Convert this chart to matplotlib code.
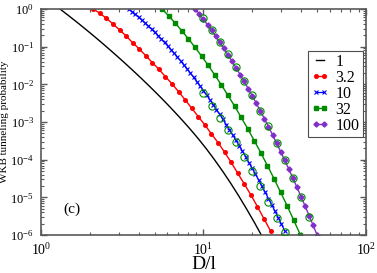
import matplotlib
matplotlib.use("Agg")
import matplotlib.pyplot as plt

plt.rcParams["font.family"] = "serif"
plt.rcParams["font.serif"] = ["Liberation Serif", "DejaVu Serif"]
plt.rcParams["mathtext.fontset"] = "stix"

# values, stored as log10(D/l) and log10(probability)
black_logd = [0.117, 0.167, 0.217, 0.267, 0.317, 0.367, 0.417, 0.467, 0.517, 0.567, 0.617, 0.667, 0.717,
              0.767, 0.817, 0.867, 0.917, 0.967, 1.017, 1.067, 1.117, 1.167, 1.217, 1.267, 1.317, 1.357]
black_logp = [0, -0.167, -0.336, -0.510, -0.688, -0.870, -1.056, -1.246, -1.440, -1.638, -1.841, -2.049,
              -2.262, -2.481, -2.708, -2.942, -3.184, -3.439, -3.709, -3.997, -4.302, -4.624, -4.964,
              -5.322, -5.697, -6.009]

red_logd = [0.322, 0.362, 0.403, 0.443, 0.484, 0.524, 0.564, 0.605, 0.645, 0.686, 0.726, 0.766, 0.807, 0.847,
            0.888, 0.928, 0.968, 1.009, 1.049, 1.090, 1.130, 1.170, 1.211, 1.251, 1.292, 1.332, 1.372, 1.413]
red_logp = [0, -0.114, -0.247, -0.398, -0.557, -0.717, -0.895, -1.062, -1.240, -1.426, -1.601, -1.797, -1.991,
            -2.196, -2.416, -2.636, -2.859, -3.079, -3.318, -3.549, -3.804, -4.070, -4.362, -4.646, -4.938,
            -5.249, -5.567, -5.895]

blue_logd = [0.54, 0.56, 0.58, 0.60, 0.62, 0.64, 0.66, 0.68, 0.70, 0.72, 0.74, 0.76, 0.78, 0.80, 0.82, 0.84,
             0.86, 0.88, 0.90, 0.92, 0.94, 0.96, 0.98, 1.00, 1.02, 1.04, 1.06, 1.08, 1.10, 1.12, 1.14, 1.16,
             1.18, 1.20, 1.22, 1.24, 1.26, 1.28, 1.30, 1.32, 1.34, 1.36, 1.38, 1.40, 1.42, 1.44, 1.46, 1.48, 1.50]
blue_logp = [0, -0.069, -0.141, -0.215, -0.291, -0.369, -0.450, -0.533, -0.618, -0.706, -0.795, -0.887, -0.982,
             -1.078, -1.177, -1.278, -1.382, -1.487, -1.595, -1.706, -1.818, -1.933, -2.050, -2.169, -2.291,
             -2.415, -2.541, -2.669, -2.800, -2.933, -3.068, -3.206, -3.345, -3.488, -3.632, -3.778, -3.927,
             -4.079, -4.232, -4.388, -4.546, -4.706, -4.868, -5.033, -5.200, -5.370, -5.541, -5.715, -5.891]

green_logd = [0.745, 0.786, 0.826, 0.867, 0.907, 0.948, 0.988, 1.029, 1.069, 1.110, 1.150, 1.191, 1.231,
              1.272, 1.312, 1.353, 1.393, 1.434, 1.474, 1.515, 1.555, 1.596]
green_logp = [0, -0.183, -0.376, -0.579, -0.793, -1.017, -1.251, -1.495, -1.750, -2.015, -2.290, -2.575,
              -2.871, -3.177, -3.493, -3.819, -4.156, -4.503, -4.860, -5.228, -5.605, -5.993]

purple_logd = [0.950, 0.975, 1.000, 1.025, 1.050, 1.075, 1.100, 1.125, 1.150, 1.175, 1.200, 1.225, 1.250,
               1.275, 1.300, 1.325, 1.350, 1.375, 1.400, 1.425, 1.450, 1.475, 1.500, 1.525, 1.550, 1.575,
               1.600, 1.625, 1.650, 1.675, 1.700]
purple_logp = [0, -0.136, -0.276, -0.421, -0.570, -0.724, -0.882, -1.045, -1.212, -1.383, -1.559, -1.739,
               -1.924, -2.113, -2.307, -2.505, -2.708, -2.915, -3.126, -3.342, -3.563, -3.788, -4.017, -4.251,
               -4.489, -4.731, -4.978, -5.230, -5.486, -5.746, -6.011]

# open green circles (comparison points) lying on the 10 and 100 curves
circ_logd = [1.00, 1.05, 1.10, 1.15, 1.20, 1.25, 1.30, 1.35, 1.40, 1.45, 1.50, 1.55, 1.60, 1.65]
circ_blue_logp = [-2.217, -2.567, -2.894, -3.212, -3.544, -3.921, -4.295, -4.694, -5.111, -5.540, -5.92]
circ_purple_logp = [-0.247, -0.557, -0.868, -1.203, -1.532, -1.911, -2.283, -2.708, -3.098, -3.549, -4.009,
                    -4.494, -4.983, -5.514]

labels = ["1", "3.2", "10", "32", "100"]


def lin(vals):
    return [10 ** v for v in vals]


fig = plt.figure(figsize=(3.77, 2.73), dpi=100)
ax = fig.add_axes([41 / 377, 38 / 273, 325 / 377, 226 / 273])

ax.plot(lin(black_logd), lin(black_logp), color="black", lw=1.0, label=labels[0])
ax.plot(lin(red_logd), lin(red_logp), color="#ff0000", lw=1.0, marker="o", ms=2.6, label=labels[1])
ax.plot(lin(blue_logd), lin(blue_logp), color="#0000ff", lw=0.9, marker="x", ms=3.0, mew=0.8,
        label=labels[2])
ax.plot(lin(green_logd), lin(green_logp), color="#008b00", lw=1.0, marker="s", ms=2.3, label=labels[3])
ax.plot(lin(purple_logd), lin(purple_logp), color="#8030c8", lw=1.0, marker="D", ms=2.6, label=labels[4])

ax.plot(lin(circ_logd[:len(circ_blue_logp)]), lin(circ_blue_logp), ls="none", marker="o", ms=5.2,
        mfc="none", mec="#008b00", mew=0.8, zorder=5)
ax.plot(lin(circ_logd), lin(circ_purple_logp), ls="none", marker="o", ms=5.2,
        mfc="none", mec="#008b00", mew=0.8, zorder=5)

ax.set_xscale("log")
ax.set_yscale("log")
ax.set_xlim(1, 100)
ax.set_ylim(1e-6, 1)

for s in ax.spines.values():
    s.set_color("0.35")
    s.set_linewidth(1.2)
ax.tick_params(which="both", direction="in", top=True, right=True, colors="0.35", labelcolor="black",
               labelsize=10)
ax.tick_params(axis="y", labelsize=9)
ax.tick_params(which="major", length=4.5, width=1.0, pad=5)
ax.tick_params(which="minor", length=2.5, width=0.8)

ax.set_xlabel("D/l", fontsize=14, labelpad=0)
ax.xaxis.set_label_coords(0.5, -0.095, transform=ax.transAxes)
ax.set_ylabel("WKB tunneling probability", fontsize=8)
ax.yaxis.set_label_coords(-0.097, 0.5)

ax.text(1.54, 4.9e-6, "(c)", fontsize=11, ha="center", va="center")

leg = ax.legend(loc="upper right", bbox_to_anchor=(0.99, 0.815), fontsize=11.5, numpoints=2,
                handlelength=1.1, handletextpad=0.4, labelspacing=0.0, borderpad=0.2,
                borderaxespad=0.0, fancybox=False, framealpha=1)
leg.get_frame().set_edgecolor("0.3")
leg.get_frame().set_linewidth(0.8)

plt.savefig("out.png", dpi=100)
